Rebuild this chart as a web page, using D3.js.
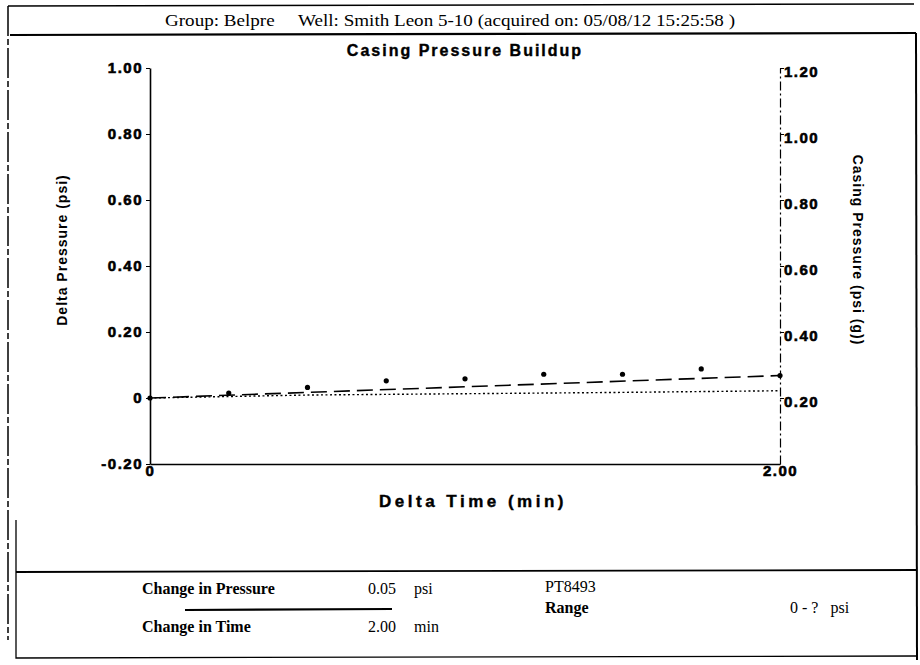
<!DOCTYPE html>
<html><head><meta charset="utf-8">
<script src="https://cdn.jsdelivr.net/npm/d3@7"></script>
<style>
body{margin:0;background:#fff;}
svg{display:block;}
.serif{font-family:"Liberation Serif","DejaVu Serif",serif;fill:#000;}
.bold{font-family:"Liberation Sans",Arial,sans-serif;font-weight:bold;fill:#000;}
</style></head>
<body>
<script>
// ---- data ----
const timeMin = [0, 0.25, 0.5, 0.75, 1.0, 1.25, 1.5, 1.75, 2.0];
const deltaPressure = [0, 0.015, 0.032, 0.052, 0.058, 0.072, 0.072, 0.088, 0.068];
const trendTime = [0, 2.0];
const trendPressure = [0, 0.068];
const casingTime = [0, 0.5, 1.0, 1.5, 2.0];
const casingPressure = [0.200, 0.209, 0.213, 0.217, 0.222];
const leftTicks = [-0.2, 0, 0.2, 0.4, 0.6, 0.8, 1.0];
const leftTickLabels = ["-0.20", "0", "0.20", "0.40", "0.60", "0.80", "1.00"];
const rightTicks = [0.2, 0.4, 0.6, 0.8, 1.0, 1.2];
const rightTickLabels = ["0.20", "0.40", "0.60", "0.80", "1.00", "1.20"];
const xTicks = [0, 2.0];
const xTickLabels = ["0", "2.00"];
const headerText = "Group: Belpre     Well: Smith Leon 5-10 (acquired on: 05/08/12 15:25:58 )";
const titleText = "Casing Pressure Buildup";
const footerLabels = ["Change in Pressure", "Change in Time"];
const footerValues = ["0.05", "2.00"];
const footerUnits = ["psi", "min"];
const gaugeName = "PT8493";
const rangeLabel = "Range";
const rangeValue = "0 - ?   psi";

const W = 920, H = 665;
const svg = d3.select("body").append("svg").attr("width", W).attr("height", H);

const x = d3.scaleLinear().domain([0, 2]).range([150, 780]);
const yL = d3.scaleLinear().domain([-0.2, 1.0]).range([464, 68]);
const yR = d3.scaleLinear().domain([0, 1.2]).range([464, 68]);

// frames
const frame = svg.append("g").attr("fill", "none").attr("stroke", "#000");
frame.append("path").attr("d", "M8,6 L914,4").attr("stroke-width", 1.5);
frame.append("path").attr("d", "M8,6 L8,640").attr("stroke-width", 1.5).attr("stroke-dasharray", "30,3,6,3");
frame.append("path").attr("d", "M10,35 L916,33").attr("stroke-width", 2.2);
frame.append("path").attr("d", "M916,33 L917,660").attr("stroke-width", 2);
frame.append("path").attr("d", "M16,520 L16,658 L917,656").attr("stroke-width", 1.3);
frame.append("path").attr("d", "M16,572 L917,570").attr("stroke-width", 1.8);

// header
svg.append("text").attr("class", "serif").attr("x", 165).attr("y", 26)
  .attr("font-size", 17).attr("textLength", 570).attr("lengthAdjust", "spacingAndGlyphs")
  .style("white-space", "pre").text(headerText);
svg.append("text").attr("class", "bold").attr("x", 465).attr("y", 56)
  .attr("text-anchor", "middle").attr("font-size", 16).attr("letter-spacing", 2)
  .attr("stroke", "#000").attr("stroke-width", 0.4).text(titleText);

// left axis
const gL = svg.append("g").attr("transform", "translate(150,0)")
  .call(d3.axisLeft(yL).tickValues(leftTicks).tickSize(4).tickSizeOuter(0)
    .tickFormat((d, i) => leftTickLabels[i]));
gL.select(".domain").attr("stroke-width", 1.6);
gL.selectAll("text").attr("class", "bold").attr("font-size", 15).attr("x", -7)
  .attr("letter-spacing", 1.5).attr("stroke", "#000").attr("stroke-width", 0.6);

// right axis
const gR = svg.append("g").attr("transform", "translate(780,0)")
  .call(d3.axisRight(yR).tickValues(rightTicks).tickSize(4).tickSizeOuter(0)
    .tickFormat((d, i) => rightTickLabels[i]));
gR.select(".domain").attr("stroke-width", 1.2).attr("stroke-dasharray", "9,3,2,3");
gR.selectAll("text").attr("class", "bold").attr("font-size", 15).attr("x", 4).attr("dy", "0.55em")
  .attr("letter-spacing", 1.5).attr("stroke", "#000").attr("stroke-width", 0.6);

// bottom axis
const gB = svg.append("g").attr("transform", "translate(0,464)")
  .call(d3.axisBottom(x).tickValues(xTicks).tickSize(0).tickSizeOuter(0)
    .tickFormat((d, i) => xTickLabels[i]));
gB.select(".domain").attr("stroke-width", 1.6);
gB.selectAll("text").attr("class", "bold").attr("font-size", 15).attr("dy", "0.6em")
  .attr("text-anchor", "middle").attr("letter-spacing", 1.5)
  .attr("stroke", "#000").attr("stroke-width", 0.6);

// axis titles
svg.append("text").attr("class", "bold").attr("font-size", 14).attr("letter-spacing", 1)
  .attr("transform", "translate(67,250) rotate(-90)").attr("text-anchor", "middle")
  .text("Delta Pressure (psi)");
svg.append("text").attr("class", "bold").attr("font-size", 14).attr("letter-spacing", 1)
  .attr("transform", "translate(853,250) rotate(90)").attr("text-anchor", "middle")
  .text("Casing Pressure (psi (g))");
svg.append("text").attr("class", "bold").attr("font-size", 17).attr("letter-spacing", 3.5)
  .attr("stroke", "#000").attr("stroke-width", 0.4)
  .attr("x", 473).attr("y", 507).attr("text-anchor", "middle").text("Delta Time (min)");

// series
const casing = casingTime.map((t, i) => [t, casingPressure[i]]);
svg.append("path").datum(casing).attr("fill", "none").attr("stroke", "#000")
  .attr("stroke-width", 1.4).attr("stroke-dasharray", "2,2.5")
  .attr("d", d3.line().x(d => x(d[0])).y(d => yR(d[1])));

const trend = trendTime.map((t, i) => [t, trendPressure[i]]);
svg.append("path").datum(trend).attr("fill", "none").attr("stroke", "#000")
  .attr("stroke-width", 1.6).attr("stroke-dasharray", "16,7")
  .attr("d", d3.line().x(d => x(d[0])).y(d => yL(d[1])));

const pts = timeMin.map((t, i) => [t, deltaPressure[i]]);
svg.append("g").selectAll("circle").data(pts).join("circle")
  .attr("cx", d => x(d[0])).attr("cy", d => yL(d[1])).attr("r", 2.6).attr("fill", "#000");

// footer
const fy = [594, 632];
footerLabels.forEach((t, i) => {
  svg.append("text").attr("class", "serif").attr("font-size", 16).attr("font-weight", "bold")
    .attr("x", 142).attr("y", fy[i]).text(t);
  svg.append("text").attr("class", "serif").attr("font-size", 16)
    .attr("x", 368).attr("y", fy[i]).text(footerValues[i]);
  svg.append("text").attr("class", "serif").attr("font-size", 16)
    .attr("x", 414).attr("y", fy[i]).text(footerUnits[i]);
});
svg.append("line").attr("x1", 185).attr("x2", 392).attr("y1", 610).attr("y2", 609)
  .attr("stroke", "#000").attr("stroke-width", 2.2);
svg.append("text").attr("class", "serif").attr("font-size", 16).attr("x", 545).attr("y", 592).text(gaugeName);
svg.append("text").attr("class", "serif").attr("font-size", 16).attr("font-weight", "bold").attr("x", 545).attr("y", 613).text(rangeLabel);
svg.append("text").attr("class", "serif").attr("font-size", 16).attr("x", 790).attr("y", 613)
  .style("white-space", "pre").text(rangeValue);
</script>
</body></html>
